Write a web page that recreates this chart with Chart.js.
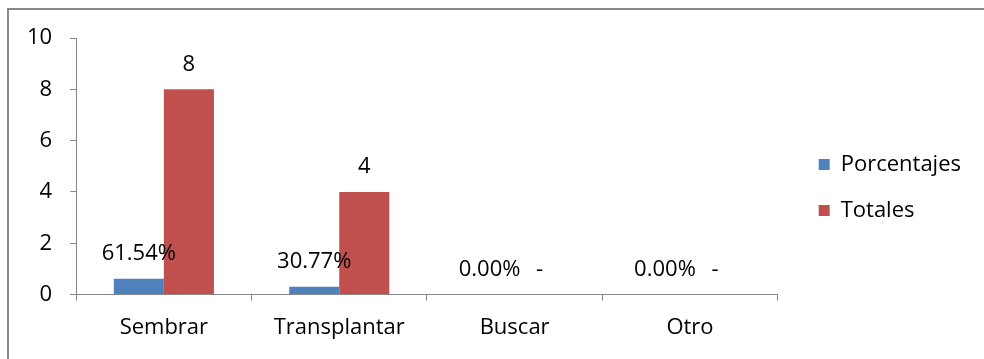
<!DOCTYPE html>
<html>
<head>
<meta charset="utf-8">
<script src="https://cdn.jsdelivr.net/npm/chart.js@4"></script>
<style>
  html, body { margin: 0; padding: 0; background: #fff; }
  #wrap { position: relative; width: 984px; height: 359px; }
  #frame { position: absolute; left: 7px; top: 8px; width: 990px; height: 360px;
           border-left: 2px solid #888; border-top: 2px solid #888; box-sizing: border-box; }
</style>
</head>
<body>
<div id="wrap">
  <div id="frame"></div>
  <canvas id="chart" width="984" height="359"></canvas>
</div>
<script>
const categorias = ["Sembrar", "Transplantar", "Buscar", "Otro"];
const porcentajes = [0.6154, 0.3077, 0, 0];
const totales = [8, 4, 0, 0];
const yTicks = [0, 2, 4, 6, 8, 10];

const FONT = "'Open Sans', sans-serif";
const SIZE = 22;
const axisGray = "#868686";

// etiquetas encima de cada barra
const etiquetas = {
  id: "etiquetas",
  afterDatasetsDraw(chart) {
    const ctx = chart.ctx;
    ctx.save();
    ctx.font = SIZE + "px " + FONT;
    ctx.fillStyle = "#000";
    ctx.textAlign = "center";
    ctx.textBaseline = "middle";
    chart.data.datasets.forEach((ds, i) => {
      chart.getDatasetMeta(i).data.forEach((bar, j) => {
        const v = ds.data[j];
        let txt;
        if (i === 0) txt = (v * 100).toFixed(2) + "%";
        else txt = v === 0 ? "-" : String(v);
        ctx.fillText(txt, bar.x, bar.y - 25);
      });
    });
    ctx.restore();
  },
};

// mover la leyenda un poco (como en Excel)
const moverLeyenda = {
  id: "moverLeyenda",
  afterLayout(chart) {
    const lg = chart.legend;
    if (!lg) return;
    lg.left += 17;
    lg.right += 17;
    lg.top -= 9;
    lg.bottom -= 9;
  },
};

new Chart(document.getElementById("chart"), {
  type: "bar",
  data: {
    labels: categorias,
    datasets: [
      {
        label: "Porcentajes",
        data: porcentajes,
        backgroundColor: "#4F81BD",
        borderWidth: 0,
      },
      {
        label: "Totales",
        data: totales,
        backgroundColor: "#C0504D",
        borderWidth: 0,
      },
    ],
  },
  options: {
    responsive: false,
    animation: false,
    devicePixelRatio: 1,
    layout: { padding: { left: 9, top: 38, right: 30, bottom: 4 } },
    datasets: {
      bar: { categoryPercentage: 0.571, barPercentage: 1 },
    },
    scales: {
      x: {
        grid: {
          display: true,
          offset: true,
          drawOnChartArea: false,
          drawTicks: true,
          tickLength: 6,
          color: axisGray,
        },
        border: { display: true, color: axisGray, width: 1 },
        ticks: {
          color: "#000",
          font: { family: FONT, size: SIZE },
          padding: 14,
          maxRotation: 0,
        },
      },
      y: {
        min: 0,
        max: 10,
        afterBuildTicks(axis) {
          axis.ticks = yTicks.map((v) => ({ value: v }));
        },
        grid: {
          display: true,
          drawOnChartArea: false,
          drawTicks: true,
          tickLength: 6,
          color: axisGray,
        },
        border: { display: true, color: axisGray, width: 1 },
        ticks: {
          color: "#000",
          font: { family: FONT, size: SIZE },
          padding: 18,
        },
      },
    },
    plugins: {
      legend: {
        position: "right",
        labels: {
          color: "#000",
          font: { family: FONT, size: SIZE },
          boxWidth: 11,
          boxHeight: 11,
          padding: 24,
        },
      },
      tooltip: { enabled: false },
    },
  },
  plugins: [etiquetas, moverLeyenda],
});
</script>
</body>
</html>
